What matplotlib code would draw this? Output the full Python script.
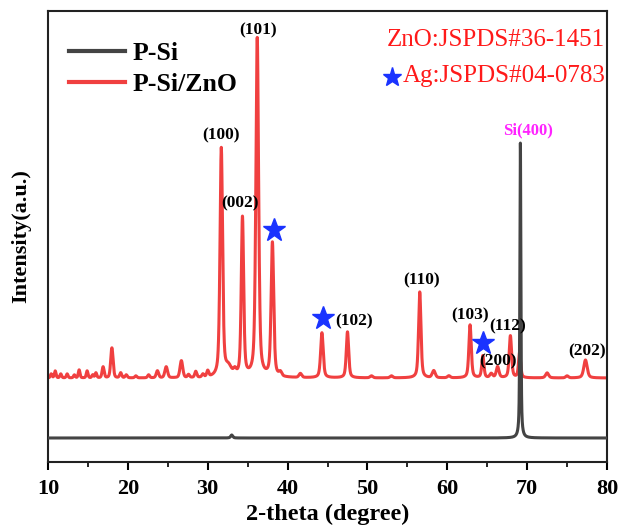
import numpy as np
import matplotlib.pyplot as plt

# peaks: position (deg), height above baseline (a.u.), fwhm (deg)
zno_pos = [31.7, 34.35, 36.2, 47.5, 56.55, 62.85, 66.3, 67.9, 69.05, 72.5, 77.3]
zno_height = [229, 159, 339, 46, 86, 53, 11, 42, 25, 5, 18]
zno_fwhm = [0.38, 0.35, 0.4, 0.35, 0.35, 0.35, 0.4, 0.35, 0.32, 0.45, 0.5]

ag_pos = [38.1, 44.3, 64.45]
ag_height = [134, 45, 22]
ag_fwhm = [0.38, 0.38, 0.32]

minor_pos = [10.4, 10.9, 11.6, 12.4, 13.3, 13.9, 14.9, 15.6, 16.0, 16.9, 18.0, 19.1,
             19.8, 21.0, 22.6, 23.7, 24.8, 26.7, 27.6, 28.5, 29.4, 30.0, 32.6, 33.4,
             39.1, 41.6, 50.5, 53.0, 58.3, 60.2, 65.5, 75.0]
minor_height = [4, 7, 4, 4, 3, 8, 7, 3, 5, 11, 30, 5,
                3, 2, 3, 7, 11, 17, 3, 6, 3, 6, 9, 5,
                4, 4, 2, 2, 7, 2, 4, 2]
minor_fwhm = [0.25, 0.25, 0.25, 0.25, 0.25, 0.25, 0.25, 0.25, 0.25, 0.3, 0.35, 0.3,
              0.3, 0.3, 0.3, 0.35, 0.4, 0.4, 0.3, 0.3, 0.3, 0.3, 0.9, 0.4,
              0.4, 0.4, 0.4, 0.4, 0.45, 0.4, 0.4, 0.4]
red_base = 84

si_pos = [33.0, 69.15]
si_height = [3, 295]
si_fwhm = [0.3, 0.15]
gray_base = 24

labels = ['(101)', '(100)', '(002)', '(102)', '(110)', '(103)', '(112)', '(200)', '(202)']
label_x = [36.3, 31.7, 34.0, 48.3, 56.8, 62.8, 67.6, 66.3, 77.5]
label_y = [432, 327, 259, 141, 182, 147, 136, 101, 111]
star_x = [38.3, 44.4, 64.5]
star_y = [232, 144, 119]


def pseudo_voigt(x, pos, height, fwhm, eta=0.5):
    y = np.zeros_like(x)
    for p, h, w in zip(pos, height, fwhm):
        g = np.exp(-4 * np.log(2) * ((x - p) / w) ** 2)
        l = 1 / (1 + 4 * ((x - p) / w) ** 2)
        y += h * (eta * l + (1 - eta) * g)
    return y


plt.rcParams['font.family'] = ['Liberation Serif', 'DejaVu Serif']
plt.rcParams['font.weight'] = 'bold'

x = np.linspace(10, 80, 5601)
red = red_base + pseudo_voigt(x, zno_pos, zno_height, zno_fwhm) \
    + pseudo_voigt(x, ag_pos, ag_height, ag_fwhm) \
    + pseudo_voigt(x, minor_pos, minor_height, minor_fwhm, eta=0.3)
gray = gray_base + pseudo_voigt(x, si_pos, si_height, si_fwhm, eta=0.6)

fig = plt.figure(figsize=(6.21, 5.29), dpi=100)
ax = fig.add_axes([0.0773, 0.1267, 0.9002, 0.8523])

ax.plot(x, gray, color='#444444', lw=2.2, label='P-Si', zorder=3)
ax.plot(x, red, color='#f04040', lw=2.2, label='P-Si/ZnO', zorder=2)

for t, lx, ly in zip(labels, label_x, label_y):
    ax.text(lx, ly, t, ha='center', va='center', fontsize=12.5, fontweight='bold')
ax.text(70.1, 332, 'Si(400)', ha='center', va='center', fontsize=12,
        fontweight='bold', color='#ff22ff')
ax.plot(star_x, star_y, ls='none', marker='*', ms=17, color='#1a33ff', zorder=4)

ax.text(0.997, 0.935, 'ZnO:JSPDS#36-1451', transform=ax.transAxes, ha='right',
        va='center', fontsize=18, fontweight='normal', color='#ff1a1a')
ax.text(0.997, 0.855, 'Ag:JSPDS#04-0783', transform=ax.transAxes, ha='right',
        va='center', fontsize=18, fontweight='normal', color='#ff1a1a')
ax.plot([0.616], [0.853], transform=ax.transAxes, marker='*', ms=14,
        color='#1a33ff', ls='none')

leg = ax.legend(loc='upper left', bbox_to_anchor=(-0.018, 1.0), frameon=False,
                fontsize=18.5, handlelength=2.2, handletextpad=0.3,
                borderaxespad=0.9, labelspacing=0.3, borderpad=0.3)
for line in leg.get_lines():
    line.set_linewidth(3)

ax.set_xlim(10, 80)
ax.set_ylim(0, 451)
ax.set_yticks([])
ax.set_xticks(np.arange(10, 81, 10))
ax.set_xticks(np.arange(15, 80, 10), minor=True)
ax.tick_params(axis='x', which='major', length=6, width=1.5, labelsize=16, pad=6)
ax.tick_params(axis='x', which='minor', length=3.5, width=1.2)
for lab in ax.get_xticklabels():
    lab.set_fontweight('bold')
for s in ax.spines.values():
    s.set_linewidth(1.5)
    s.set_color('#222222')

ax.set_xlabel('2-theta (degree)', fontsize=17.5, fontweight='bold', labelpad=4)
ax.set_ylabel('Intensity(a.u.)', fontsize=16, fontweight='bold', labelpad=12)

fig.savefig('out.png', dpi=100)
